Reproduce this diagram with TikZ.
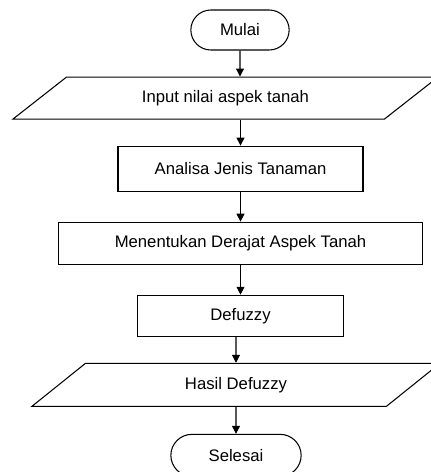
\documentclass[tikz,border=0pt]{standalone}
\usepackage{fontspec}
\setmainfont{Liberation Sans}
\usetikzlibrary{shapes.geometric, shapes.misc, arrows.meta, positioning}

\begin{document}
\begin{tikzpicture}[
    flowfont/.style={font=\fontsize{9.5}{11}\selectfont},
    terminal/.style={rounded rectangle, draw=black, semithick, minimum width=2.2cm, minimum height=0.8cm, flowfont},
    process/.style={rectangle, draw=black, semithick, minimum height=0.84cm, text centered, flowfont},
    io/.style={trapezium, trapezium left angle=27, trapezium right angle=153, trapezium stretches body, draw=black, semithick, minimum height=0.84cm, flowfont},
    arrow/.style={semithick, -{Triangle[length=4.5pt, width=4.5pt]}}
]
    \useasboundingbox (0,0) rectangle (8.6,-9.44);

    \node[terminal] (mulai) at (4.8,-0.6) {Mulai};
    \node[io, minimum width=8.5cm, below=0.52cm of mulai, xshift=-0.29cm] (input) {Input nilai aspek tanah};
    \node[process, minimum width=4.9cm, minimum height=0.9cm, below=0.52cm of input, xshift=0.3cm] (analisa) {Analisa Jenis Tanaman};
    \node[process, minimum width=7.28cm, below=0.6cm of analisa] (derajat) {Menentukan Derajat Aspek Tanah};
    \node[process, minimum width=4.12cm, minimum height=0.82cm, below=0.6cm of derajat] (defuzzy) {Defuzzy};
    \node[io, minimum width=8.16cm, minimum height=0.86cm, below=0.52cm of defuzzy, xshift=-0.09cm] (hasil) {Hasil Defuzzy};
    \node[terminal, minimum width=2.84cm, minimum height=0.84cm, below=0.54cm of hasil] (selesai) {Selesai};

    \draw[arrow] (mulai) -- (mulai |- input.north);
    \draw[arrow] (input.south -| analisa) -- (analisa);
    \draw[arrow] (analisa) -- (analisa |- derajat.north);
    \draw[arrow] (derajat) -- (derajat |- defuzzy.north);
    \draw[arrow] (defuzzy.south -| hasil) -- (hasil);
    \draw[arrow] (hasil) -- (selesai);

\end{tikzpicture}
\end{document}
